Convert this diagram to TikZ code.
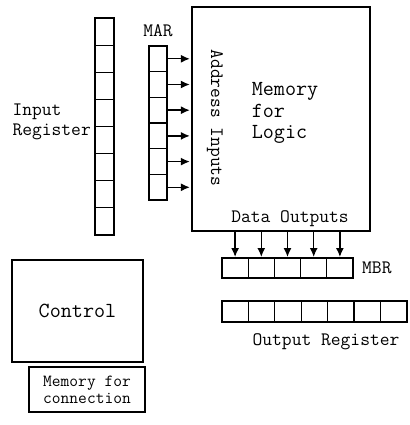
\documentclass[tikz,border=0pt]{standalone}
\usetikzlibrary{positioning,arrows.meta}

\begin{document}
\begin{tikzpicture}
        [x=1pt, y=-1pt, node distance=0pt,
         cell/.style={draw, line width=1.2pt, inner sep=0pt, outer sep=0pt},
         ircell/.style={cell, minimum width=19pt, minimum height=27.1pt},
         marcell/.style={cell, minimum width=18pt, minimum height=25.7pt},
         mbrcell/.style={cell, minimum width=26.2pt, minimum height=20pt},
         orcell/.style={cell, minimum width=26.4pt, minimum height=21pt},
         outline/.style={line width=2.5pt},
         block/.style={draw, line width=2.3pt, inner sep=0pt},
         txt/.style={font=\ttfamily\fontsize{19}{20}\selectfont, inner sep=0pt},
         bigtxt/.style={font=\ttfamily\fontsize{21.5}{21.5}\selectfont, inner sep=0pt},
         arr/.style={-{Latex[length=9pt,width=8pt]}, line width=1.4pt, shorten >=1pt}]

        \useasboundingbox (0,0) rectangle (409,425);

        % input register
        \node [ircell] (ir1) at (104.5,31.6) {};
        \node [ircell] (ir2) [below =of ir1] {};
        \node [ircell] (ir3) [below =of ir2] {};
        \node [ircell] (ir4) [below =of ir3] {};
        \node [ircell] (ir5) [below =of ir4] {};
        \node [ircell] (ir6) [below =of ir5] {};
        \node [ircell] (ir7) [below =of ir6] {};
        \node [ircell] (ir8) [below =of ir7] {};
        \draw [outline] (ir1.north west) rectangle (ir8.south east);

        % MAR
        \node [marcell] (mar1) at (158,58.8) {};
        \node [marcell] (mar2) [below =of mar1] {};
        \node [marcell] (mar3) [below =of mar2] {};
        \node [marcell] (mar4) [below =of mar3] {};
        \node [marcell] (mar5) [below =of mar4] {};
        \node [marcell] (mar6) [below =of mar5] {};
        \draw [outline] (mar1.north west) rectangle (mar6.south east);

        % memory for logic
        \node [block, minimum width=178pt, minimum height=224pt] (mem) at (281,119) {};

        % MBR
        \node [mbrcell] (mbr1) at (235.1,268) {};
        \node [mbrcell] (mbr2) [right =of mbr1] {};
        \node [mbrcell] (mbr3) [right =of mbr2] {};
        \node [mbrcell] (mbr4) [right =of mbr3] {};
        \node [mbrcell] (mbr5) [right =of mbr4] {};
        \draw [outline] (mbr1.north west) rectangle (mbr5.south east);

        % output register
        \node [orcell] (or1) at (235.2,311.5) {};
        \node [orcell] (or2) [right =of or1] {};
        \node [orcell] (or3) [right =of or2] {};
        \node [orcell] (or4) [right =of or3] {};
        \node [orcell] (or5) [right =of or4] {};
        \node [orcell] (or6) [right =of or5] {};
        \node [orcell] (or7) [right =of or6] {};
        \draw [outline] (or1.north west) rectangle (or7.south east);

        \node [block, bigtxt, minimum width=131pt, minimum height=102pt] (ctrl) at (77.5,311) {Control};
        \node [block, minimum width=116pt, minimum height=45pt, align=center,
               font=\ttfamily\fontsize{17}{17}\selectfont] (memcon) at (87,389.5) {Memory for\\connection};

        % labels
        \node [txt] (marl) at (158,31) {MAR};
        \node [txt, align=left, anchor=east] (irl) at (91,122) {Input\\Register};
        \node [txt, rotate=-90] (addr) at (215,118) {Address Inputs};
        \node [bigtxt, align=left] (logic) at (285,113) {Memory\\for\\Logic};
        \node [txt] (dout) at (290,219) {Data Outputs};
        \node [txt, right =9pt of mbr5] (mbrl) {MBR};
        \node [txt] (orl) at (326,342) {Output Register};

        \draw[arr] (mar1.east) -- (mar1 -| mem.west);
        \draw[arr] (mar2.east) -- (mar2 -| mem.west);
        \draw[arr] (mar3.east) -- (mar3 -| mem.west);
        \draw[arr] (mar4.east) -- (mar4 -| mem.west);
        \draw[arr] (mar5.east) -- (mar5 -| mem.west);
        \draw[arr] (mar6.east) -- (mar6 -| mem.west);

        \draw[arr] (mbr1 |- mem.south) -- (mbr1.north);
        \draw[arr] (mbr2 |- mem.south) -- (mbr2.north);
        \draw[arr] (mbr3 |- mem.south) -- (mbr3.north);
        \draw[arr] (mbr4 |- mem.south) -- (mbr4.north);
        \draw[arr] (mbr5 |- mem.south) -- (mbr5.north);
\end{tikzpicture}
\end{document}
